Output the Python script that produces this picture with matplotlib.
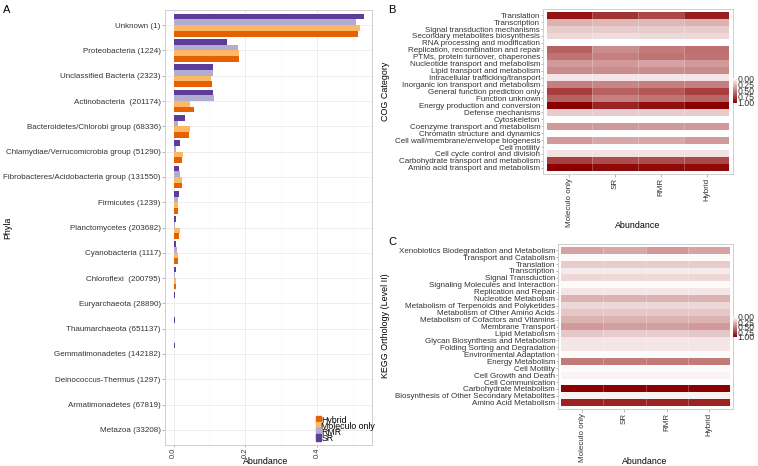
import numpy as np
import matplotlib
matplotlib.use("Agg")
import matplotlib.pyplot as plt
from matplotlib.colors import LinearSegmentedColormap
from matplotlib.patches import Patch

plt.rcParams['font.family'] = ['Liberation Sans', 'DejaVu Sans']

# ---- panel A data (top to bottom) ----
phyla = ["Unknown (1)", "Proteobacteria (1224)", "Unclassified Bacteria (2323)",
         "Actinobacteria  (201174)", "Bacteroidetes/Chlorobi group (68336)",
         "Chlamydiae/Verrucomicrobia group (51290)",
         "Fibrobacteres/Acidobacteria group (131550)", "Firmicutes (1239)",
         "Planctomycetes (203682)", "Cyanobacteria (1117)", "Chloroflexi  (200795)",
         "Euryarchaeota (28890)", "Thaumarchaeota (651137)",
         "Gemmatimonadetes (142182)", "Deinococcus-Thermus (1297)",
         "Armatimonadetes (67819)", "Metazoa (33208)"]
sr = [0.532, 0.148, 0.109, 0.110, 0.032, 0.017, 0.014, 0.014, 0.008, 0.007,
      0.006, 0.003, 0.003, 0.003, 0.001, 0.001, 0.0005]
rmr = [0.510, 0.181, 0.110, 0.113, 0.013, 0.008, 0.019, 0.012, 0.005, 0.009,
       0.005, 0.002, 0.002, 0.002, 0.001, 0.001, 0.0005]
moleculo = [0.520, 0.182, 0.105, 0.047, 0.045, 0.026, 0.024, 0.012, 0.018, 0.012,
            0.007, 0.002, 0.002, 0.002, 0.001, 0.001, 0.0005]
hybrid = [0.515, 0.182, 0.106, 0.056, 0.044, 0.024, 0.024, 0.013, 0.016, 0.012,
          0.008, 0.002, 0.002, 0.002, 0.001, 0.001, 0.0005]

# ---- panel B data (top to bottom), columns: Moleculo only, SR, RMR, Hybrid ----
methods = ["Moleculo only", "SR", "RMR", "Hybrid"]
cog_cats = ["Translation", "Transcription", "Signal transduction mechanisms",
            "Secondary metabolites biosynthesis", "RNA processing and modification",
            "Replication, recombination and repair", "PTMs, protein turnover, chaperones",
            "Nucleotide transport and metabolism", "Lipid transport and metabolism",
            "Intracellular trafficking/transport", "Inorganic ion transport and metabolism",
            "General function prediction only", "Function unknown",
            "Energy production and conversion", "Defense mechanisms", "Cytoskeleton",
            "Coenzyme transport and metabolism", "Chromatin structure and dynamics",
            "Cell wall/membrane/envelope biogenesis", "Cell motility",
            "Cell cycle control and division", "Carbohydrate transport and metabolism",
            "Amino acid transport and metabolism"]
cog_vals = [[0.92, 0.80, 0.72, 0.88],
            [0.30, 0.28, 0.28, 0.30],
            [0.20, 0.20, 0.20, 0.20],
            [0.16, 0.14, 0.15, 0.16],
            [0.00, 0.00, 0.00, 0.00],
            [0.62, 0.45, 0.52, 0.56],
            [0.55, 0.50, 0.55, 0.55],
            [0.40, 0.40, 0.36, 0.40],
            [0.46, 0.45, 0.45, 0.46],
            [0.10, 0.10, 0.10, 0.10],
            [0.50, 0.48, 0.50, 0.50],
            [0.76, 0.62, 0.66, 0.76],
            [0.62, 0.50, 0.55, 0.60],
            [1.00, 0.86, 0.94, 1.00],
            [0.20, 0.20, 0.20, 0.20],
            [0.00, 0.00, 0.00, 0.00],
            [0.40, 0.40, 0.40, 0.40],
            [0.00, 0.00, 0.00, 0.00],
            [0.40, 0.35, 0.35, 0.40],
            [0.00, 0.00, 0.00, 0.00],
            [0.12, 0.12, 0.12, 0.12],
            [0.76, 0.70, 0.70, 0.72],
            [1.00, 0.96, 0.96, 0.96]]

# ---- panel C data (top to bottom) ----
kegg_cats = ["Xenobiotics Biodegradation and Metabolism", "Transport and Catabolism",
             "Translation", "Transcription", "Signal Transduction",
             "Signaling Molecules and Interaction", "Replication and Repair",
             "Nucleotide Metabolism", "Metabolism of Terpenoids and Polyketides",
             "Metabolism of Other Amino Acids", "Metabolism of Cofactors and Vitamins",
             "Membrane Transport", "Lipid Metabolism",
             "Glycan Biosynthesis and Metabolism", "Folding Sorting and Degradation",
             "Environmental Adaptation", "Energy Metabolism", "Cell Motility",
             "Cell Growth and Death", "Cell Communication", "Carbohydrate Metabolism",
             "Biosynthesis of Other Secondary Metabolites", "Amino Acid Metabolism"]
kegg_vals = [[0.36, 0.34, 0.40, 0.36],
             [0.02, 0.02, 0.02, 0.02],
             [0.20, 0.20, 0.20, 0.20],
             [0.08, 0.08, 0.08, 0.08],
             [0.16, 0.15, 0.15, 0.16],
             [0.02, 0.02, 0.02, 0.02],
             [0.10, 0.10, 0.10, 0.10],
             [0.30, 0.30, 0.30, 0.30],
             [0.16, 0.16, 0.16, 0.16],
             [0.22, 0.22, 0.22, 0.22],
             [0.30, 0.30, 0.30, 0.30],
             [0.40, 0.38, 0.38, 0.40],
             [0.22, 0.20, 0.20, 0.22],
             [0.10, 0.10, 0.10, 0.10],
             [0.10, 0.10, 0.10, 0.10],
             [0.02, 0.02, 0.02, 0.02],
             [0.52, 0.52, 0.52, 0.52],
             [0.02, 0.02, 0.02, 0.02],
             [0.05, 0.05, 0.05, 0.05],
             [0.00, 0.00, 0.00, 0.00],
             [1.00, 1.00, 1.00, 1.00],
             [0.05, 0.05, 0.05, 0.05],
             [0.86, 0.86, 0.86, 0.86]]

W, H = 758, 466
fig = plt.figure(figsize=(W / 100, H / 100), dpi=100)


def px_axes(x0, y0, x1, y1):
    # pixel box (top-left origin) -> figure axes
    return fig.add_axes([x0 / W, 1 - y1 / H, (x1 - x0) / W, (y1 - y0) / H])


def px_text(x, y, s, **kw):
    fig.text(x / W, 1 - y / H, s, ha="center", va="center", **kw)


txt_col = "#333333"
border_col = "#c8c8c8"
fs = 5.8
title_fs = 6.4


def light_theme(ax):
    for s in ax.spines.values():
        s.set_color(border_col)
        s.set_linewidth(0.6)
    ax.tick_params(colors="#999999", labelcolor=txt_col, labelsize=fs,
                   length=2, width=0.5, pad=1)


# ---------------- A ----------------
axA = px_axes(165, 10, 372, 445)
light_theme(axA)
n = len(phyla)
ypos = np.arange(n)[::-1]
bw = 0.225
cols = {"SR": "#5e3c99", "RMR": "#b2abd2", "Moleculo only": "#fdb863", "Hybrid": "#e66101"}
axA.barh(ypos + 1.5 * bw, sr, height=bw, color=cols["SR"], zorder=3)
axA.barh(ypos + 0.5 * bw, rmr, height=bw, color=cols["RMR"], zorder=3)
axA.barh(ypos - 0.5 * bw, moleculo, height=bw, color=cols["Moleculo only"], zorder=3)
axA.barh(ypos - 1.5 * bw, hybrid, height=bw, color=cols["Hybrid"], zorder=3)
axA.set_yticks(ypos)
axA.set_yticklabels(phyla)
axA.set_ylim(-0.6, n - 0.4)
axA.set_xlim(-0.024, 0.554)
axA.set_xticks([0.0, 0.2, 0.4])
axA.set_xticklabels(["0.0", "0.2", "0.4"], rotation=90)
axA.set_xticks([0.1, 0.3, 0.5], minor=True)
axA.tick_params(axis="x", which="minor", length=0)
axA.tick_params(axis="x", which="major", length=1.5, pad=0.3, labelsize=5.4)
axA.grid(True, which="major", color="#ebebeb", lw=0.6, zorder=0)
axA.grid(True, which="minor", axis="x", color="#f4f4f4", lw=0.4, zorder=0)
px_text(266, 462, "Abundance", fontsize=title_fs)
px_text(8, 228, "Phyla", fontsize=title_fs, rotation=90)
handles = [Patch(color=cols[k]) for k in ["Hybrid", "Moleculo only", "RMR", "SR"]]
axA.legend(handles, ["Hybrid", "Moleculo only", "RMR", "SR"], loc="lower left",
           bbox_to_anchor=(0.728, 0.005), frameon=False, fontsize=6.3,
           handlelength=0.55, handleheight=0.9, labelspacing=-0.35,
           handletextpad=0.1, borderpad=0, borderaxespad=0)
px_text(7, 10, "A", fontsize=8)

cmap = LinearSegmentedColormap.from_list("wr", ["#ffffff", "#8b0000"])


def heat(ax, cats, vals):
    light_theme(ax)
    v = np.array(vals)[::-1]
    nr = len(cats)
    ax.pcolormesh(np.arange(5) - 0.5, np.arange(nr + 1) - 0.5, v, cmap=cmap,
                  vmin=0, vmax=1, edgecolors="none")
    ax.vlines([0.5, 1.5, 2.5], -0.5, nr - 0.5, color="white", lw=0.5, alpha=0.35)
    ax.set_yticks(np.arange(nr))
    ax.set_yticklabels(cats[::-1])
    ax.set_xticks(np.arange(4))
    ax.set_xticklabels(methods, rotation=90)
    ax.set_xlim(-0.58, 3.58)
    ax.set_ylim(-0.89, nr - 0.11)
    ax.tick_params(axis="y", pad=0.5, length=1.5)


def cbar(x0, y0, x1, y1):
    cax = px_axes(x0, y0, x1, y1)
    grad = np.linspace(0, 1, 100).reshape(-1, 1)
    cax.imshow(grad, cmap=cmap, aspect="auto", extent=[0, 1, 1, 0])
    cax.set_ylim(1, 0)
    cax.set_xticks([])
    cax.yaxis.tick_right()
    cax.set_yticks([0, 0.25, 0.5, 0.75, 1.0])
    cax.set_yticklabels(["0.00", "0.25", "0.50", "0.75", "1.00"])
    cax.tick_params(axis="y", length=0, pad=0.5, labelsize=6.3, labelcolor=txt_col)
    for s in cax.spines.values():
        s.set_visible(False)


# ---------------- B ----------------
axB = px_axes(543, 9, 733, 174)
heat(axB, cog_cats, cog_vals)
cbar(733, 78, 737, 103)
px_text(638, 226, "Abundance", fontsize=title_fs)
px_text(385, 91, "COG Category", fontsize=title_fs, rotation=90)
px_text(392, 10, "B", fontsize=8)

# ---------------- C ----------------
axC = px_axes(558, 244, 733, 409)
heat(axC, kegg_cats, kegg_vals)
cbar(733, 317, 737, 337)
px_text(645, 461, "Abundance", fontsize=title_fs)
px_text(385, 326, "KEGG Orthology (Level II)", fontsize=title_fs, rotation=90)
px_text(392, 242, "C", fontsize=8)

fig.savefig("out.png", dpi=100)
